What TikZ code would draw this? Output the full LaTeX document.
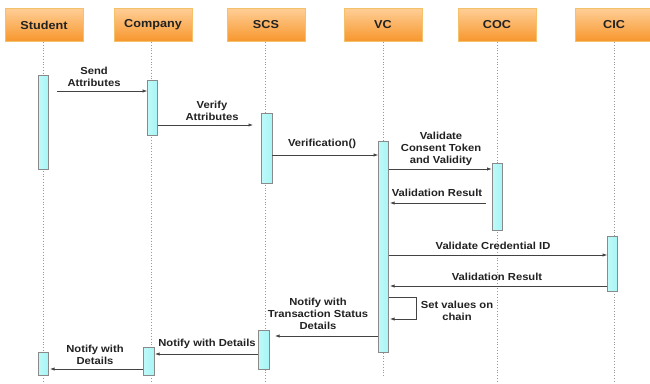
\documentclass[tikz,border=0pt]{standalone}
\usepackage{fontspec}
\setmainfont{Liberation Sans}[FakeStretch=1.1]
\usetikzlibrary{arrows.meta}
\definecolor{hdrTop}{HTML}{FFCE96}
\definecolor{hdrBot}{HTML}{F7962C}
\definecolor{hdrLine}{HTML}{F5C06A}
\definecolor{barFill}{HTML}{A6F6F6}
\definecolor{barLine}{HTML}{8A8A8A}
\definecolor{ink}{HTML}{222222}
\tikzset{
  actor/.style={draw=hdrLine, line width=0.8pt, top color=hdrTop, bottom color=hdrBot,
    minimum width=78pt, minimum height=33pt, inner sep=0pt,
    font=\fontsize{11.5}{13}\selectfont\bfseries, text=ink},
  lifeline/.style={draw=gray!80, dotted, line width=0.8pt},
  actbar/.style={draw=barLine, line width=0.6pt, left color=barFill!70!white, right color=barFill,
    minimum width=10pt, inner sep=0pt},
  msg/.style={draw=ink!85, line width=0.7pt, -{Latex[length=4.5pt,width=3.2pt]}},
  lbl/.style={font=\fontsize{10.2}{12}\selectfont\bfseries, text=ink, align=center, inner sep=0pt},
}
\begin{document}
\begin{tikzpicture}[x=1pt,y=-1pt]
\useasboundingbox (0,0) rectangle (650,383);
\fill[white] (0,0) rectangle (650,383);

% participants
\node[actor] (stu) at (44,25) {Student};
\node[actor] (com) at (153,25) {Company};
\node[actor] (scs) at (266,25) {SCS};
\node[actor] (vc)  at (383,25) {VC};
\node[actor] (coc) at (497,25) {COC};
\node[actor] (cic) at (614,25) {CIC};

% life lines
\coordinate (endStu) at (43,382);
\coordinate (endCom) at (151,382);
\coordinate (endScs) at (265,382);
\coordinate (endVc)  at (383,376);
\coordinate (endCoc) at (497,383);
\coordinate (endCic) at (614,383);
\draw[lifeline] (stu.south -| endStu) -- (endStu);
\draw[lifeline] (com.south -| endCom) -- (endCom);
\draw[lifeline] (scs.south -| endScs) -- (endScs);
\draw[lifeline] (vc.south -| endVc) -- (endVc);
\draw[lifeline] (coc.south -| endCoc) -- (endCoc);
\draw[lifeline] (cic.south -| endCic) -- (endCic);

% activation bars
\node[actbar, minimum height=94pt] (stuA) at (43.5,122) {};
\node[actbar, minimum height=23pt] (stuB) at (43,363.5) {};
\node[actbar, minimum height=55pt] (comA) at (152.5,107.5) {};
\node[actbar, minimum height=28pt, minimum width=11pt] (comB) at (148.5,361) {};
\node[actbar, minimum height=70pt, minimum width=11pt] (scsA) at (266.5,148) {};
\node[actbar, minimum height=39pt, minimum width=11pt] (scsB) at (263.5,349.5) {};
\node[actbar, minimum height=211pt] (vcA) at (383.5,246.5) {};
\node[actbar, minimum height=67pt] (cocA) at (497,196.5) {};
\node[actbar, minimum height=55pt] (cicA) at (612.5,263.5) {};

% message end points
\coordinate (m1) at (57,91);
\coordinate (m2) at (253,125);
\coordinate (m3) at (0,155);
\coordinate (m4) at (0,169);
\coordinate (m5) at (486,203);
\coordinate (m5e) at (390,203);
\coordinate (m6) at (0,255);
\coordinate (m7) at (0,286);
\coordinate (m7e) at (390,286);
\coordinate (s1) at (389,297);
\coordinate (s2) at (416,297);
\coordinate (s3) at (416,319);
\coordinate (s4) at (390,319);
\coordinate (m9) at (275,336);
\coordinate (m10) at (155,354);
\coordinate (m11) at (50,369);

% messages
\draw[msg] (m1) -- (comA.west |- m1);
\node[lbl] (t1) at (94,77) {Send\\Attributes};

\draw[msg] (comA.east |- m2) -- (m2);
\node[lbl] (t2) at (212,111) {Verify\\Attributes};

\draw[msg] (scsA.east |- m3) -- (vcA.west |- m3);
\node[lbl] (t3) at (322,144) {Verification()};

\draw[msg] (vcA.east |- m4) -- (cocA.west |- m4);
\node[lbl] (t4) at (441,149) {Validate\\Consent Token\\and Validity};

\draw[msg] (m5) -- (m5e);
\node[lbl] (t5) at (437,193) {Validation Result};

\draw[msg] (vcA.east |- m6) -- (cicA.west |- m6);
\node[lbl] (t6) at (493,246) {Validate Credential ID};

\draw[msg] (cicA.west |- m7) -- (m7e);
\node[lbl] (t7) at (497,277) {Validation Result};

\draw[msg] (s1) -- (s2) -- (s3) -- (s4);
\node[lbl] (t8) at (457,310.5) {Set values on\\chain};

\draw[msg] (vcA.west |- m9) -- (m9);
\node[lbl] (t9) at (318,313.5) {Notify with\\Transaction Status\\Details};

\draw[msg] (scsB.west |- m10) -- (m10);
\node[lbl] (t10) at (207,344) {Notify with Details};

\draw[msg] (comB.west |- m11) -- (m11);
\node[lbl] (t11) at (95,355) {Notify with\\Details};
\end{tikzpicture}
\end{document}
